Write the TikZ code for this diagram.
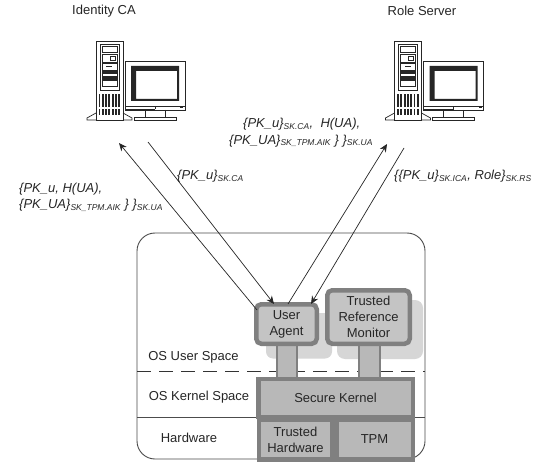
\documentclass[tikz,border=0pt]{standalone}
\usepackage{fontspec}
\setmainfont{Liberation Sans}
\usetikzlibrary{arrows.meta}
\definecolor{edgeg}{HTML}{808080}
\definecolor{fillg}{HTML}{C4C4C4}
\definecolor{fillk}{HTML}{B8B8B8}
\definecolor{shad}{HTML}{D6D6D6}
\tikzset{
  x=1pt,y=-1pt,
  lab/.style={font=\fontsize{13}{15}\selectfont,text=black!85,inner sep=0pt},
  msg/.style={font=\fontsize{13}{16.5}\selectfont\itshape,text=black!85,inner sep=0pt,align=left,anchor=north west},
  part/.style={draw=edgeg,line width=4.5pt,fill=fillg,rounded corners=5pt,inner sep=0pt,align=center,font=\fontsize{13}{16}\selectfont,text=black!85},
  kern/.style={draw=edgeg,line width=4.5pt,fill=fillk,inner sep=0pt,align=center,font=\fontsize{13}{16}\selectfont,text=black!85},
  link/.style={draw=edgeg,line width=2pt,fill=fillk},
  shadowb/.style={fill=shad,rounded corners=8pt},
  msgarrow/.style={-{Stealth[length=8pt,width=7pt]},line width=.7pt,black!85},
}
\newcommand{\sbs}[1]{$_{\mbox{\fontsize{8.5}{9}\selectfont\itshape #1}}$}
\newcommand{\comp}[2]{%
\begin{scope}[shift={(#1,#2)},line width=.7pt,black!85]
 % tower
 \draw (36,11) rectangle (63,90);
 \draw (40,14) rectangle (59,60);
 \draw[line width=.9pt] (42,16) rectangle (57,22);
 \fill (42,16) rectangle (57,17.5);
 \draw (42,24) rectangle (57,32);
 \draw (50,26) rectangle (55,30);
 \draw (42,33) rectangle (57,40);
 \fill (46,36) rectangle (52,37.5);
 \fill (42,41) rectangle (57,44);
 \fill (42,46) rectangle (57,49);
 \draw (42,41) rectangle (57,49);
 \draw (42,50) rectangle (57,56);
 \foreach \i in {0,1,2,3,4,5,6}{\fill (38.5+\i*3.3,64) rectangle +(1.9,13);\fill (38.5+\i*3.3,79) rectangle +(1.9,6);}
 \draw (36,83) -- (27,88) -- (27,90) -- (36,90);
 \draw (63,83) -- (72,88) -- (72,90) -- (63,90);
 % monitor
 \draw (65,31) rectangle (125,80);
 \fill[even odd rule] (71,36) rectangle (119,71) (76,41) rectangle (117,69);
 \draw (65,76.5) -- (125,76.5);
 \draw (65,79) -- (95,79) (95,76.5) -- (95,79);
 \fill (120,76) rectangle (123,78);
 \draw (85,80) -- (85,87) (105,80) -- (105,87);
 \draw (74,87) rectangle (116,90);
\end{scope}}
\begin{document}
\begin{tikzpicture}
\useasboundingbox (0,0) rectangle (540,462);
\fill[white] (0,0) rectangle (540,462);
\node[lab] (ca) at (104,11) {Identity CA};
\node[lab] (rs) at (422,11) {Role Server};
\comp{60}{30}
\comp{358.5}{30}
% outer
\draw[line width=.9pt,black!70,rounded corners=18pt] (137,233) rectangle (425,459);
\fill[shad,rounded corners=7pt] (266,313) rectangle (332,358.5);
\fill[shad,rounded corners=8pt] (337,300) rectangle (423,359);
\draw[line width=.9pt,black!80,dash pattern=on 14pt off 8pt] (137,371) -- (425,371);
\draw[line width=.9pt,black!70] (137,417) -- (425,417);
\node[lab] at (193.5,357) {OS User Space};
\node[lab] at (199,397.5) {OS Kernel Space};
\node[lab] at (189,437.5) {Hardware};
% links
\path[link] (277,340) rectangle (297,380);
\path[link] (359,340) rectangle (380,380);
% boxes
\node[part,minimum width=60.5pt,minimum height=39.5pt] (ua) at (286.5,324) {User\\Agent};
\node[part,minimum width=82.5pt,minimum height=53.5pt] (trm) at (368.5,317) {Trusted\\Reference\\Monitor};
\node[kern,minimum width=154.5pt,minimum height=38pt] (sk) at (335.5,398) {Secure Kernel};
\node[kern,minimum width=73.5pt,minimum height=40pt] (th) at (295.5,439.5) {Trusted\\Hardware};
\node[kern,minimum width=76.5pt,minimum height=40pt] (tpm) at (374.5,439.5) {TPM};
% arrows
\coordinate (a1) at (119,143);
\coordinate (a2) at (148,142);
\coordinate (a3) at (387,144);
\coordinate (a4) at (404,148);
\draw[msgarrow] ([xshift=3pt,yshift=-8pt]ua.north west) -- (a1);
\draw[msgarrow] (a2) -- ([xshift=20pt,yshift=-2pt]ua.north west);
\draw[msgarrow] ([xshift=34pt,yshift=-2pt]ua.north west) -- (a3);
\draw[msgarrow] (a4) -- ([xshift=57pt,yshift=-2pt]ua.north west);
% messages
\node[msg] (m1) at (19,182.5) {\{PK\_u, H(UA),\\\{PK\_UA\}\sbs{SK\_TPM.AIK}\ \} \}\sbs{SK.UA}};
\node[msg] (m2) at (177,170) {\{PK\_u\}\sbs{SK.CA}};
\node[msg] (m3) at (229,118) {\hspace*{14pt}\{PK\_u\}\sbs{SK.CA},\ \ H(UA),\\\{PK\_UA\}\sbs{SK\_TPM.AIK}\ \} \}\sbs{SK.UA}};
\node[msg] (m4) at (394,170) {\{\{PK\_u\}\sbs{SK.ICA}, Role\}\sbs{SK.RS}};
\end{tikzpicture}
\end{document}
